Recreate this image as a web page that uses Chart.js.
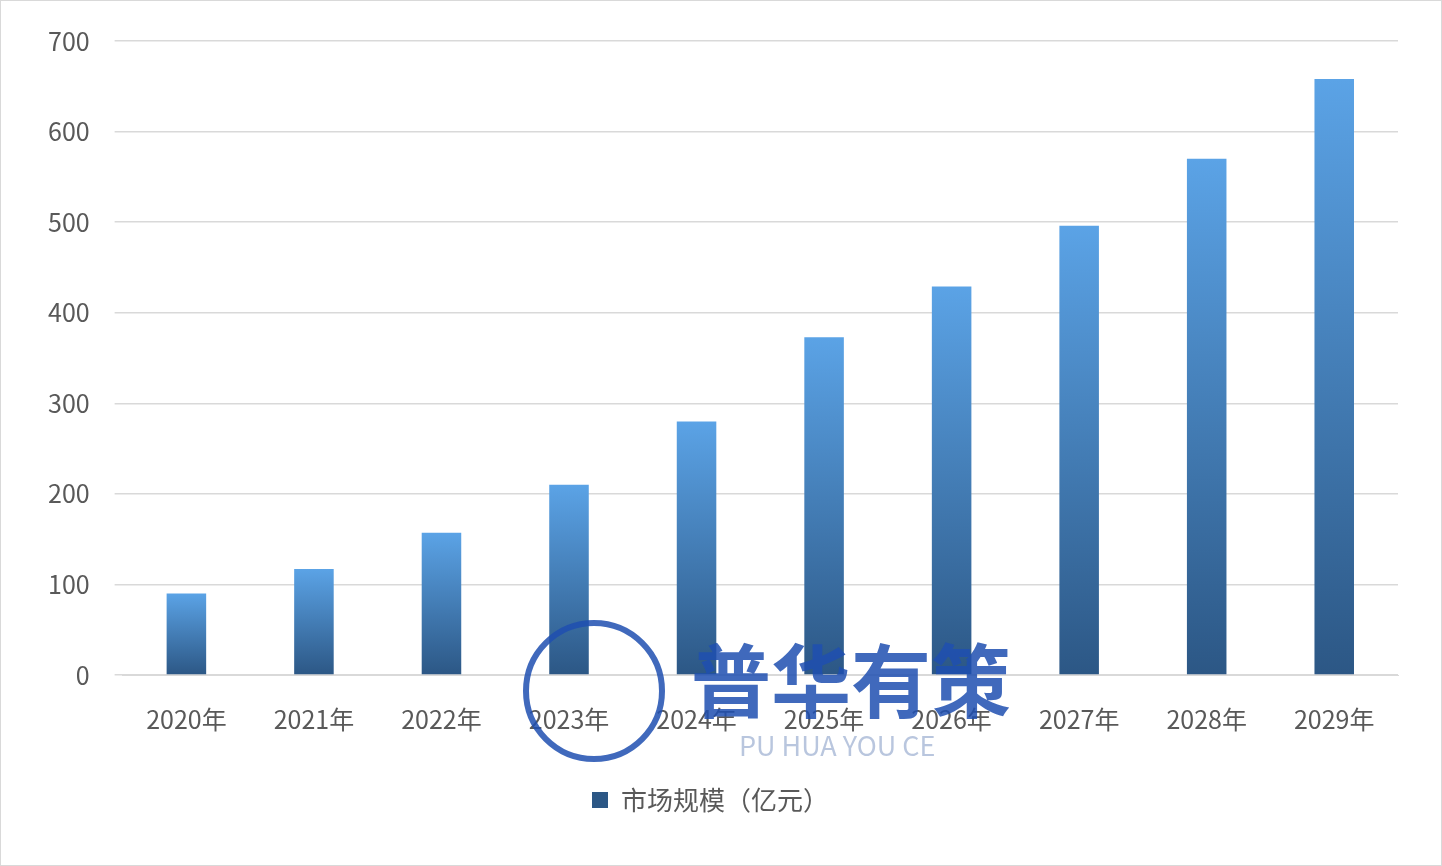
<!DOCTYPE html>
<html lang="zh">
<head>
  <meta charset="UTF-8">
  <title>市场规模（亿元）</title>
  <style>
    html, body { margin: 0; padding: 0; background: #fff; }
    #wrap { position: absolute; left: 0; top: 0; width: 1440px; height: 864px; border: 1px solid #d9d9d9; }
  </style>
</head>
<body>
  <div id="wrap"><canvas id="myChart"></canvas></div>

  <script src="https://cdn.jsdelivr.net/npm/chart.js"></script>
  <script>
    // datos
    var categories = ['2020年', '2021年', '2022年', '2023年', '2024年', '2025年', '2026年', '2027年', '2028年', '2029年'];
    var marketSize = [90, 117, 157, 210, 280, 373, 429, 496, 570, 658];
    var seriesName = '市场规模（亿元）';
    var yTicks = [0, 100, 200, 300, 400, 500, 600, 700];

    var font = '"Noto Sans CJK SC", "Noto Sans", sans-serif';

    // degradado por barra: claro arriba, oscuro abajo
    function barGradient(context) {
      var chart = context.chart;
      var area = chart.chartArea;
      if (!area || context.type !== 'data') return '#3f79b5';
      var yScale = chart.scales.y;
      var top = yScale.getPixelForValue(context.raw);
      var g = chart.ctx.createLinearGradient(0, top, 0, area.bottom);
      g.addColorStop(0, '#5ba3e6');
      g.addColorStop(1, '#2c5785');
      return g;
    }

    // marca de agua
    var watermark = {
      id: 'watermark',
      afterDraw: function (chart) {
        var c = chart.ctx;
        c.save();
        c.globalAlpha = 0.85;
        c.strokeStyle = '#1f4fb0';
        c.lineWidth = 6;
        c.beginPath();
        c.arc(593, 690, 68, 0, Math.PI * 2);
        c.stroke();
        c.fillStyle = '#1f4fb0';
        c.font = 'bold 80px ' + font;
        c.textBaseline = 'middle';
        c.fillText('普华有策', 690, 680);
        c.globalAlpha = 0.6;
        c.fillStyle = '#8aa0c8';
        c.font = '27px ' + font;
        c.fillText('PU HUA YOU CE', 738, 745);
        c.restore();
      }
    };

    var ctx = document.getElementById('myChart').getContext('2d');
    var myChart = new Chart(ctx, {
      type: 'bar',
      data: {
        labels: categories,
        datasets: [{
          label: seriesName,
          data: marketSize,
          backgroundColor: barGradient,
          categoryPercentage: 1,
          barPercentage: 0.31
        }]
      },
      options: {
        responsive: true,
        maintainAspectRatio: false,
        animation: false,
        layout: { padding: { left: 22, right: 43, top: 40, bottom: 42 } },
        plugins: {
          legend: {
            position: 'bottom',
            labels: {
              font: { family: font, size: 26 },
              color: '#595959',
              boxWidth: 16, boxHeight: 16,
              padding: 32
            }
          },
          tooltip: { enabled: false }
        },
        scales: {
          x: {
            grid: { display: false },
            border: { color: '#d9d9d9' },
            ticks: { font: { family: font, size: 25 }, color: '#595959', padding: 21 }
          },
          y: {
            min: 0, max: 700,
            afterBuildTicks: function (axis) { axis.ticks = yTicks.map(function (v) { return { value: v }; }); },
            grid: { color: '#d9d9d9', lineWidth: 1.5 },
            border: { display: false },
            ticks: { font: { family: font, size: 25 }, color: '#595959', padding: 25 }
          }
        }
      },
      plugins: [watermark]
    });
  </script>
</body>
</html>
